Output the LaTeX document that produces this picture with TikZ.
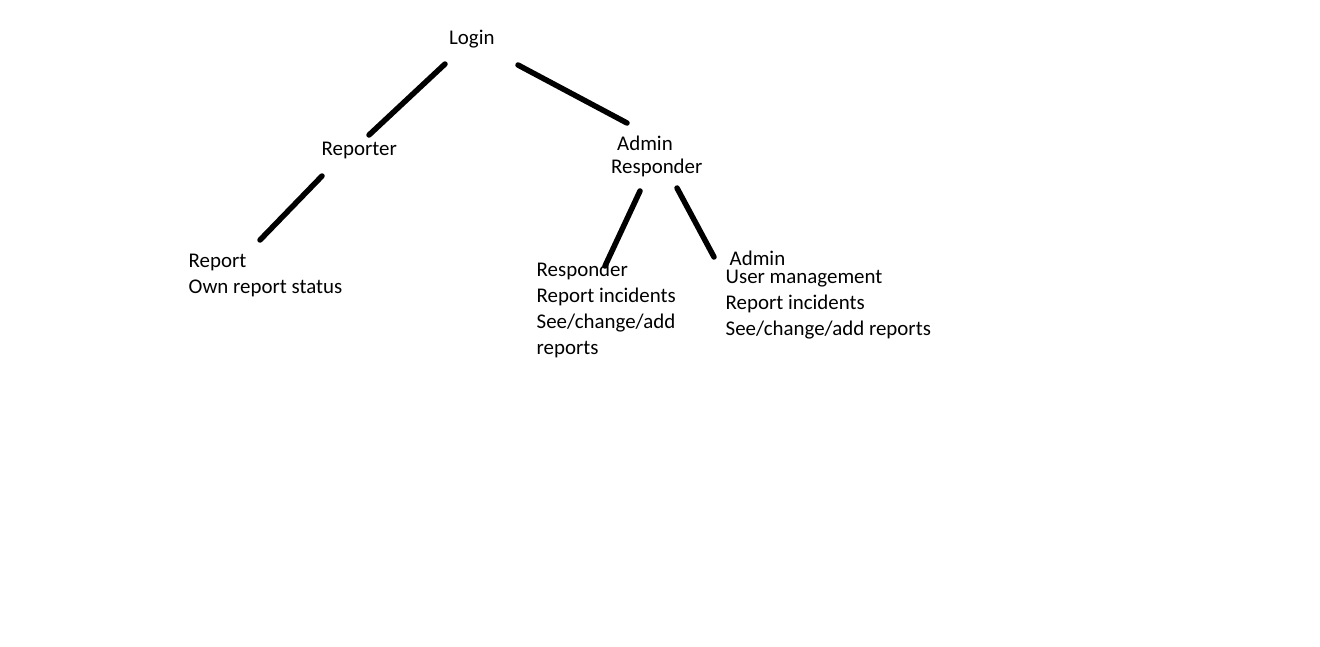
\documentclass[tikz,border=0pt]{standalone}
\usepackage{fontspec}
\setmainfont{Carlito}
\begin{document}
\begin{tikzpicture}[x=1pt,y=-1pt,
  lbl/.style={anchor=base west,inner sep=0pt,font=\fontsize{20.9}{25}\selectfont},
  conn/.style={line width=5.5pt,line cap=round,black}]
\useasboundingbox[fill=white] (0,0) rectangle (1320,646);
% nodes
\node[lbl] (login) at (449,44) {Login};
\node[lbl] (reporter) at (321.5,155) {Reporter};
\node[lbl] (ar1) at (617,150) {Admin};
\node[lbl] (ar2) at (611,173) {Responder};
\node[lbl] (rep1) at (188.5,267.5) {Report};
\node[lbl] (rep2) at (188.5,293.5) {Own report status};
\node[lbl] (res1) at (536.5,276) {Responder};
\node[lbl] (res2) at (536.5,302.5) {Report incidents};
\node[lbl] (res3) at (536.5,328.5) {See/change/add};
\node[lbl] (res4) at (536.5,354.5) {reports};
\node[lbl] (adm0) at (729.5,265) {Admin};
\node[lbl] (adm1) at (725.5,283.5) {User management};
\node[lbl] (adm2) at (725.5,309.5) {Report incidents};
\node[lbl] (adm3) at (725.5,335.5) {See/change/add reports};
% connector ends
\coordinate (c1a) at (445,64);  \coordinate (c1b) at (369,135);
\coordinate (c2a) at (518,65);  \coordinate (c2b) at (627,123);
\coordinate (c3a) at (322,176); \coordinate (c3b) at (260,240);
\coordinate (c4a) at (640,191); \coordinate (c4b) at (605,266);
\coordinate (c5a) at (677,188); \coordinate (c5b) at (714,257);
\draw[conn] (c1a) -- (c1b);
\draw[conn] (c2a) -- (c2b);
\draw[conn] (c3a) -- (c3b);
\draw[conn] (c4a) -- (c4b);
\draw[conn] (c5a) -- (c5b);
\end{tikzpicture}
\end{document}
